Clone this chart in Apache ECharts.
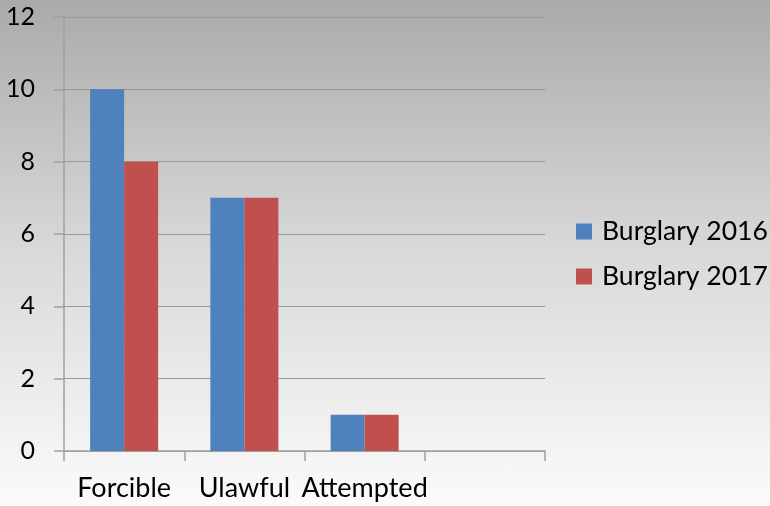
<!DOCTYPE html>
<html>
<head>
<meta charset="utf-8">
<script src="https://cdn.jsdelivr.net/npm/echarts@6/dist/echarts.min.js"></script>
<style>
html,body{margin:0;padding:0;}
#c{width:770px;height:506px;background:linear-gradient(to bottom,#aaaaaa 0%,#d9d9d9 50%,#fbfbfb 100%);}
</style>
</head>
<body>
<div id="c"></div>
<script>
var categories = ['Forcible', 'Ulawful', 'Attempted', ''];
var burglary2016 = [10, 7, 1, null];
var burglary2017 = [8, 7, 1, null];
var seriesNames = ['Burglary 2016', 'Burglary 2017'];

var chart = echarts.init(document.getElementById('c'));
var font = 'Lato, "Open Sans", sans-serif';
chart.setOption({
  animation: false,
  backgroundColor: 'transparent',
  grid: {left: 64, right: 225, top: 17, bottom: 55, containLabel: false},
  legend: {
    orient: 'vertical',
    left: 576,
    top: 218,
    padding: 0,
    itemWidth: 16,
    itemHeight: 16,
    itemGap: 18,
    icon: 'rect',
    textStyle: {fontFamily: font, fontSize: 26.5, lineHeight: 27, color: '#000', padding: [0, 0, 0, 5]},
    data: seriesNames
  },
  xAxis: {
    type: 'category',
    data: categories,
    boundaryGap: true,
    axisLine: {lineStyle: {color: '#a0a0a0', width: 1.5}},
    axisTick: {show: true, length: 10, alignWithLabel: false, lineStyle: {color: '#a0a0a0', width: 1.5}},
    axisLabel: {fontFamily: font, fontSize: 27, lineHeight: 27, color: '#000', margin: 24, interval: 0},
    splitLine: {show: false}
  },
  yAxis: {
    type: 'value',
    min: 0,
    max: 12,
    interval: 2,
    axisLine: {show: true, lineStyle: {color: '#a0a0a0', width: 1.5}},
    axisTick: {show: true, length: 10, lineStyle: {color: '#a0a0a0', width: 1.5}},
    axisLabel: {fontFamily: font, fontSize: 25, color: '#000', margin: 29},
    splitLine: {show: true, lineStyle: {color: '#999999', width: 1}}
  },
  series: [
    {name: seriesNames[0], type: 'bar', data: burglary2016, barWidth: 34, barGap: '0%', itemStyle: {color: '#4F81BD'}},
    {name: seriesNames[1], type: 'bar', data: burglary2017, barWidth: 34, barGap: '0%', itemStyle: {color: '#C0504D'}}
  ]
});
</script>
</body>
</html>
